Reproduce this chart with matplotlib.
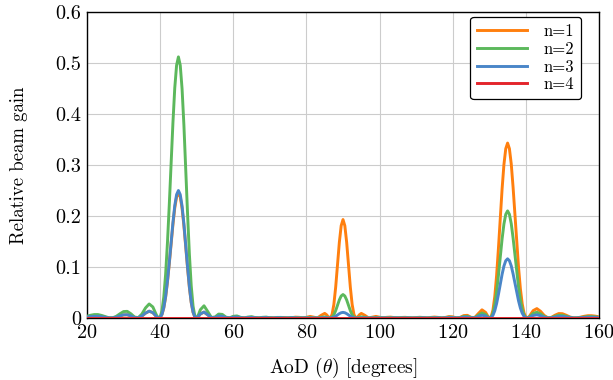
import matplotlib
matplotlib.use('Agg')
import matplotlib.pyplot as plt

plt.rcParams['font.family'] = 'serif'
plt.rcParams['font.serif'] = ['cmr10']
plt.rcParams['mathtext.fontset'] = 'cm'
plt.rcParams['axes.formatter.use_mathtext'] = True

# sample angles (degrees)
aod = [20, 21, 22, 23, 24, 25, 26, 27, 28, 29, 30, 31, 32, 33, 34, 35, 36, 37, 38, 39,
       39.5, 40, 40.5, 41, 41.5, 42, 42.5, 43, 43.5, 44, 44.5, 45, 45.5, 46, 46.5, 47,
       47.5, 48, 48.5, 49, 49.5, 50, 50.5,
       51, 52, 53, 54, 55, 56, 57, 58, 59, 60, 61, 62, 63, 64, 65, 66, 67, 68, 69, 70,
       71, 72, 73, 74, 75, 76, 77, 78, 79, 80, 81, 82, 83, 84, 85,
       85.5, 86, 86.5, 87, 87.5, 88, 88.5, 89, 89.5, 90, 90.5, 91, 91.5, 92, 92.5, 93,
       93.5, 94, 94.5,
       95, 96, 97, 98, 99, 100, 101, 102, 103, 104, 105, 106, 107, 108, 109, 110, 111,
       112, 113, 114, 115, 116, 117, 118, 119, 120, 121, 122, 123, 124, 125, 126, 127,
       128, 129,
       129.5, 130, 130.5, 131, 131.5, 132, 132.5, 133, 133.5, 134, 134.5, 135, 135.5,
       136, 136.5, 137, 137.5, 138, 138.5, 139, 139.5, 140, 140.5,
       141, 142, 143, 144, 145, 146, 147, 148, 149, 150, 151, 152, 153, 154, 155, 156,
       157, 158, 159, 160]

gain_n1 = [.0017, .0026, .0032, .0032, .0024, .0012, .0002, .0001, .0015, .0039, .0060, .0062,
           .0040, .0009, .0003, .0036, .0094, .0132, .0104, .0027,
           .0002, .0009, .0068, .0198, .0409, .0706, .1061, .1449, .1832, .2158, .2372, .2450,
           .2372, .2149, .1809, .1395, .0977, .0597, .0303, .0112, .0017, .0002, .0033,
           .0078, .0114, .0061, .0005, .0009, .0037, .0033, .0008, .0001, .0016, .0021, .0009,
           .0002, .0009, .0014, .0008, .0003, .0006, .0011, .0009, .0003, .0005, .0011, .0009,
           .0003, .0006, .0016, .0013, .0003, .0013, .0031, .0017, .0001, .0051, .0090,
           .0064, .0020, .0001, .0067, .0265, .0607, .1043, .1484, .1809, .1930, .1809, .1484,
           .1043, .0607, .0265, .0067, .0001, .0020, .0064,
           .0090, .0051, .0001, .0017, .0031, .0015, .0004, .0013, .0017, .0008, .0004, .0010,
           .0013, .0007, .0004, .0009, .0014, .0009, .0004, .0010, .0018, .0012, .0003, .0011,
           .0028, .0022, .0002, .0011, .0047, .0052, .0013, .0008, .0086, .0160, .0109,
           .0046, .0003, .0023, .0157, .0424, .0836, .1368, .1953, .2533, .3009, .3320, .3430,
           .3320, .3022, .2565, .2029, .1486, .0988, .0573, .0277, .0095, .0013, .0003,
           .0037, .0145, .0184, .0132, .0051, .0004, .0013, .0056, .0087, .0084, .0055, .0021,
           .0002, .0003, .0017, .0034, .0045, .0045, .0036, .0024]

gain_n2 = [.0035, .0054, .0067, .0067, .0050, .0026, .0004, .0003, .0032, .0082, .0126, .0130,
           .0083, .0019, .0006, .0076, .0197, .0275, .0217, .0056,
           .0005, .0019, .0141, .0414, .0856, .1475, .2218, .3028, .3829, .4511, .4956, .5120,
           .4956, .4492, .3781, .2915, .2042, .1248, .0632, .0234, .0035, .0004, .0069,
           .0162, .0239, .0128, .0011, .0019, .0077, .0070, .0016, .0003, .0033, .0040, .0013,
           .0001, .0018, .0025, .0008, .0002, .0013, .0017, .0005, .0002, .0011, .0011, .0003,
           .0003, .0010, .0008, .0003, .0004, .0009, .0007, .0004, .0000, .0012, .0021,
           .0015, .0005, .0000, .0016, .0063, .0145, .0249, .0354, .0431, .0460, .0431, .0354,
           .0249, .0145, .0063, .0016, .0000, .0005, .0015,
           .0021, .0012, .0000, .0004, .0007, .0005, .0002, .0003, .0005, .0004, .0002, .0003,
           .0006, .0004, .0001, .0003, .0008, .0005, .0001, .0004, .0010, .0008, .0000, .0006,
           .0016, .0013, .0001, .0007, .0029, .0032, .0008, .0005, .0053, .0098, .0067,
           .0028, .0002, .0014, .0096, .0259, .0512, .0837, .1196, .1551, .1842, .2033, .2100,
           .2033, .1850, .1570, .1242, .0910, .0605, .0351, .0170, .0058, .0008, .0002,
           .0023, .0089, .0113, .0081, .0031, .0002, .0008, .0034, .0053, .0052, .0034, .0013,
           .0001, .0002, .0011, .0021, .0027, .0027, .0022, .0014]

gain_n3 = [.0017, .0027, .0033, .0033, .0025, .0013, .0002, .0002, .0016, .0040, .0062, .0064,
           .0041, .0010, .0003, .0037, .0096, .0134, .0106, .0027,
           .0003, .0010, .0069, .0202, .0418, .0720, .1083, .1479, .1870, .2203, .2420, .2500,
           .2420, .2193, .1846, .1424, .0997, .0610, .0309, .0114, .0017, .0002, .0034,
           .0079, .0117, .0063, .0006, .0010, .0038, .0034, .0008, .0002, .0016, .0019, .0006,
           .0001, .0009, .0012, .0004, .0001, .0006, .0008, .0002, .0001, .0005, .0005, .0001,
           .0001, .0005, .0003, .0001, .0002, .0004, .0002, .0001, .0000, .0003, .0005,
           .0004, .0001, .0000, .0004, .0015, .0035, .0059, .0085, .0103, .0110, .0103, .0085,
           .0059, .0035, .0015, .0004, .0000, .0001, .0004,
           .0005, .0003, .0000, .0001, .0002, .0002, .0001, .0001, .0002, .0002, .0001, .0001,
           .0002, .0002, .0000, .0001, .0004, .0003, .0000, .0002, .0006, .0004, .0000, .0003,
           .0009, .0007, .0001, .0004, .0016, .0018, .0004, .0003, .0029, .0054, .0037,
           .0016, .0001, .0008, .0053, .0143, .0283, .0463, .0661, .0857, .1018, .1123, .1160,
           .1123, .1022, .0867, .0686, .0503, .0334, .0194, .0094, .0032, .0004, .0001,
           .0013, .0049, .0062, .0045, .0017, .0001, .0004, .0019, .0029, .0029, .0019, .0007,
           .0001, .0001, .0006, .0011, .0015, .0015, .0012, .0008]

aod_n4 = [20, 160]
gain_n4 = [0.0, 0.0]

labels = ['n=1', 'n=2', 'n=3', 'n=4']
colors = ['#ff7f0e', '#5cb85c', '#4a86c8', '#e3242b']

fig = plt.figure(figsize=(6.13, 3.80), dpi=100)
ax = fig.add_axes([0.1419, 0.1632, 0.8353, 0.8052])

ax.plot(aod, gain_n1, color=colors[0], lw=2.1, label=labels[0])
ax.plot(aod, gain_n2, color=colors[1], lw=2.1, label=labels[1])
ax.plot(aod, gain_n3, color=colors[2], lw=2.1, label=labels[2])
ax.plot(aod_n4, gain_n4, color=colors[3], lw=2.1, label=labels[3])

ax.set_xlim(20, 160)
ax.set_ylim(0, 0.6)
ax.set_xticks([20, 40, 60, 80, 100, 120, 140, 160])
ax.set_yticks([0, 0.1, 0.2, 0.3, 0.4, 0.5, 0.6])
ax.set_yticklabels(['0', '0.1', '0.2', '0.3', '0.4', '0.5', '0.6'])
ax.grid(True, color='#cccccc', lw=0.8)
ax.set_axisbelow(True)
ax.tick_params(length=0, labelsize=14.6, pad=4)
for s in ax.spines.values():
    s.set_linewidth(1.0)
    s.set_zorder(1.5)

ax.set_xlabel(r'AoD ($\theta$) [degrees]', fontsize=14, labelpad=10)
ax.set_ylabel('Relative beam gain', fontsize=13.5, labelpad=20)

leg = ax.legend(loc='upper right', bbox_to_anchor=(0.965, 0.984), fontsize=12,
                fancybox=True, framealpha=1, edgecolor='black', handlelength=3.0,
                borderpad=0.4, labelspacing=0.15, handletextpad=1.0, borderaxespad=0)
leg.get_frame().set_linewidth(0.9)

plt.savefig('out.png')
